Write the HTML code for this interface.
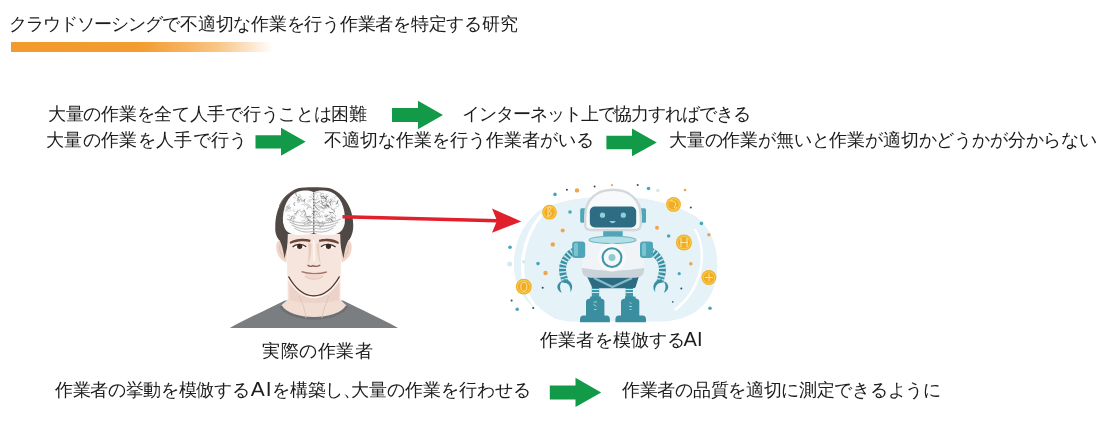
<!DOCTYPE html>
<html><head><meta charset="utf-8">
<style>
html,body{margin:0;padding:0;background:#fff;}
body{width:1114px;height:425px;position:relative;overflow:hidden;font-family:"Liberation Sans",sans-serif;color:#1C1C1C;}
.t{position:absolute;white-space:nowrap;font-size:18px;line-height:18px;will-change:transform;}
#bar{position:absolute;left:11px;top:42px;width:262px;height:10px;background:linear-gradient(to right,#F29A2D 0px,#F39C31 130px,#F7B565 180px,#F9C788 208px,#FCE1C3 236px,#fff 262px);}
svg{position:absolute;left:0;top:0;}
</style></head><body>
<div class="t" id="title" style="left:8.5px;top:15px;font-size:18px;"><span style="letter-spacing:-0.97px">クラウドソーシング</span><span style="letter-spacing:-0.25px">で不適切な作業を行う作業者を特定する研究</span></div>
<div id="bar"></div>

<div class="t" id="r1a" style="left:48px;top:105px;letter-spacing:-0.29px;">大量の作業を全て人手で行うことは困難</div>
<div class="t" id="r1b" style="left:462px;top:105px;letter-spacing:-1.06px;">インターネット上で協力すればできる</div>
<div class="t" id="r2a" style="left:46px;top:131px;letter-spacing:0.35px;">大量の作業を人手で行う</div>
<div class="t" id="r2b" style="left:324px;top:131px;">不適切な作業を行う作業者がいる</div>
<div class="t" id="r2c" style="left:669px;top:131px;letter-spacing:-0.17px;">大量の作業が無いと作業が適切かどうかが分からない</div>

<div class="t" id="cap1" style="left:262px;top:342px;letter-spacing:0.6px;">実際の作業者</div>
<div class="t" id="cap2" style="left:540px;top:331px;letter-spacing:0.17px;">作業者を模倣する<span style="font-size:20px;margin-left:-2px;letter-spacing:0.3px;line-height:10px">AI</span></div>

<div class="t" id="b1" style="left:55px;top:381px;letter-spacing:-0.35px;">作業者の挙動を模倣する<span style="font-size:21px;letter-spacing:1px;margin-left:1.5px;line-height:10px">A</span><span style="font-size:21px;letter-spacing:0.8px;line-height:10px">I</span>を構築し<span style="display:inline-block;width:8px;overflow:visible">、</span><span style="letter-spacing:0">大量の作業を行わせる</span></div>
<div class="t" id="b2" style="left:622px;top:381px;letter-spacing:-0.3px;">作業者の品質を適切に測定できるように</div>

<svg width="1114" height="425" viewBox="0 0 1114 425">
  
  <g id="man">
    <!-- shirt -->
    <path d="M229.8,328 C244,320 268,309 285,300.5 L343,300.5 C360,309 384,320 398,328 Z" fill="#7B7E81"/>
    <!-- neck -->
    <path d="M287.6,266 L287.6,300 C285,302 282.5,304 280.6,306 C290,322.5 338,322.5 347,306 C345,304 342.5,302 340.6,300 L340.6,266 Z" fill="#F2DDD3"/>
    <path d="M290,283 C300,294 328,294 339,283 L339,300 C326,304 302,304 290,300 Z" fill="#E9CFC4" opacity="0.7"/>
    <path d="M280.6,306 C290,322.5 338,322.5 347,306" fill="none" stroke="#6C6F72" stroke-width="2.6"/>
    <path d="M299,296 C303,304 305,310 306,318 M329,296 C326,304 323,310 322,318" fill="none" stroke="#DDBFB3" stroke-width="0.8"/>
    <path d="M287.6,268 L287.6,300 M340.6,268 L340.6,300" stroke="#FFF4EE" stroke-width="1"/>
    <!-- hair -->
    <path d="M279,240 C276,236 274.8,232 275.3,226 C275.5,208 284,193 298,188.2 C305,186.8 322,186.8 330,188.2 C344,193 353,208 353.2,224 C353.6,230 352,236 349,240 Z" fill="#4F4845"/>
    <path d="M279.5,206 C282,199 287,194 294,191" fill="none" stroke="#6E6662" stroke-width="1"/>
    <!-- ears -->
    <path d="M282,239.5 C278,240 275.6,243 276.3,248.5 C277,254.5 280,260 286.5,262.5 L287.5,246 Z" fill="#F0D5C9"/>
    <path d="M346,239.5 C350,240 352.4,243 351.7,248.5 C351,254.5 348,260 341.5,262.5 L340.5,246 Z" fill="#F0D5C9"/>
    <path d="M280,245 C279,249 280.5,254 284,257.5" fill="none" stroke="#E0BCAE" stroke-width="1"/>
    <path d="M348,245 C349,249 347.5,254 344,257.5" fill="none" stroke="#E0BCAE" stroke-width="1"/>
    <path d="M278,232 L289,232 L288.5,240 C287.5,246 286,252 284.5,258.5 C283.5,251 282,244 278.5,238 Z" fill="#4F4845"/>
    <path d="M350,232 L339,232 L339.5,240 C340.5,246 342,252 343.5,258.5 C344.5,251 346,244 349.5,238 Z" fill="#4F4845"/>
    <!-- face -->
    <path d="M287.8,234 L340.2,234 C340.8,248 341,264 340.5,276 C334,287.5 325,295.8 313.8,295.8 C302.6,295.8 294,287.5 287.5,276 C287,264 287.2,248 287.8,234 Z" fill="#F6E5DC"/>
    <path d="M287.5,277.5 C294,289.5 302.5,297.5 313.8,297.5 C325.1,297.5 334,289.5 340.5,277.5" fill="none" stroke="#FFF7F3" stroke-width="1.4"/>
    <path d="M288.5,276.5 C295,288 303,295.8 313.8,295.8 C324.6,295.8 333,288 339.5,276.5" fill="none" stroke="#4A3430" stroke-width="1.35"/>
    <path d="M313.8,240 L314.2,261" stroke="#FFF6F1" stroke-width="1.6"/>
    <!-- brain -->
    <clipPath id="bc"><path d="M283,223 C282,207 288,196 297,192 C304,189.8 310,190.2 313.8,192.3 C317.6,190.2 324,189.8 331,192 C340,196 346,207 344.8,223 C343.5,230 340,233.5 334,234.5 C325,236 318,234.5 313.8,233 C309,234.5 302,236 294,234.5 C288,233.5 284.5,230 283.5,224 Z"/></clipPath>
    <path d="M283,223 C282,207 288,196 297,192 C304,189.8 310,190.2 313.8,192.3 C317.6,190.2 324,189.8 331,192 C340,196 346,207 344.8,223 C343.5,230 340,233.5 334,234.5 C325,236 318,234.5 313.8,233 C309,234.5 302,236 294,234.5 C288,233.5 284.5,230 283.5,224 Z" fill="#FCFCFC"/>
    <g clip-path="url(#bc)">
    <path d="M321.1,207.2 L320.4,207.6 L319.5,207.7 L318.7,207.5 L318.0,207.0 L317.7,206.4 L317.7,205.8 M312.5,198.6 L312.3,199.2 L311.7,199.6 L311.0,199.8 L310.3,199.9 L309.5,199.7 L309.0,199.3 M326.8,204.5 L327.8,204.6 L328.6,205.0 L329.0,205.6 L329.0,206.4 L328.6,207.0 L327.8,207.4 M321.7,214.7 L321.7,215.5 L321.1,216.2 L320.2,216.6 L319.2,216.7 L318.2,216.4 L317.5,215.8 M329.0,202.6 L329.9,202.4 L330.9,202.5 L331.7,202.9 L332.2,203.5 L332.2,204.3 L331.8,205.0 M286.3,207.1 L287.2,206.5 L288.3,206.2 L289.5,206.5 L290.3,207.1 L290.7,207.9 L290.5,208.8 M322.1,198.0 L321.5,197.5 L321.3,196.8 L321.7,196.1 L322.5,195.8 L323.4,195.8 L324.1,196.3 M298.9,213.4 L298.0,212.8 L297.6,212.0 L297.7,211.1 L298.4,210.3 L299.5,209.9 L300.7,209.9 M298.5,201.0 L299.1,200.3 L300.0,199.9 L301.1,199.7 L302.1,200.0 L302.9,200.5 L303.3,201.3 M325.3,221.1 L325.8,220.5 L326.8,220.2 L327.8,220.5 L328.4,221.1 L328.4,221.9 L327.7,222.5 M321.3,225.7 L321.3,226.2 L321.0,226.6 L320.6,226.9 L320.0,227.1 L319.5,227.1 L318.9,226.9 M334.1,214.2 L335.5,215.0 L335.9,216.3 L335.3,217.5 L333.7,218.1 L332.0,218.0 L330.7,217.0 M327.5,204.6 L326.8,203.9 L326.7,203.0 L327.0,202.2 L327.8,201.5 L328.8,201.1 L330.0,201.1 M289.2,207.2 L289.3,208.0 L288.7,208.6 L287.8,208.9 L286.8,208.7 L286.2,208.1 L286.2,207.3 M316.6,195.0 L317.4,195.4 L317.8,196.0 L317.9,196.7 L317.5,197.3 L316.9,197.8 L316.0,198.0 M308.1,225.5 L307.3,224.7 L307.3,223.8 L307.9,223.1 L309.1,222.8 L310.3,223.0 L311.0,223.8 M326.8,204.1 L327.7,204.8 L328.0,205.8 L327.6,206.7 L326.6,207.3 L325.3,207.4 L324.1,207.0 M298.0,199.8 L299.0,200.1 L299.6,200.7 L299.7,201.5 L299.2,202.1 L298.4,202.6 L297.4,202.6 M316.1,220.6 L316.7,220.4 L317.4,220.3 L318.0,220.5 L318.4,220.9 L318.6,221.4 L318.4,221.9 M319.3,221.4 L319.3,221.9 L319.2,222.3 L318.8,222.7 L318.2,222.9 L317.6,223.0 L316.9,222.9 M316.3,210.1 L316.8,209.6 L317.6,209.4 L318.4,209.4 L319.1,209.8 L319.5,210.3 L319.4,210.9 M309.9,218.0 L309.6,217.5 L309.7,216.9 L310.2,216.5 L311.0,216.3 L311.7,216.5 L312.1,217.0 M294.1,216.2 L294.1,215.7 L294.4,215.2 L295.0,214.8 L295.8,214.7 L296.5,214.9 L297.0,215.3 M287.3,215.2 L288.4,215.1 L289.3,215.4 L290.0,216.0 L290.1,216.8 L289.6,217.5 L288.8,218.0 M318.9,209.2 L319.2,209.7 L319.2,210.2 L319.0,210.7 L318.5,211.0 L317.9,211.3 L317.2,211.3 M312.0,218.5 L312.8,218.0 L313.9,217.8 L314.9,218.0 L315.7,218.5 L316.1,219.2 L316.1,219.9 M304.5,202.9 L304.5,203.6 L304.2,204.1 L303.5,204.5 L302.7,204.6 L301.9,204.4 L301.4,204.0 M304.5,206.2 L304.7,205.2 L305.5,204.4 L306.7,204.1 L308.1,204.2 L309.1,204.8 L309.5,205.8 M299.1,201.6 L298.5,201.6 L297.9,201.4 L297.5,201.0 L297.4,200.6 L297.6,200.1 L297.9,199.7 M334.4,209.3 L334.4,208.9 L334.6,208.5 L335.0,208.2 L335.6,208.0 L336.1,208.0 L336.7,208.2 M317.9,208.7 L316.5,208.3 L315.6,207.3 L315.7,206.1 L316.6,205.2 L318.2,204.9 L319.7,205.3 M334.2,201.6 L333.1,201.9 L332.0,201.6 L331.3,201.0 L331.3,200.1 L331.9,199.4 L332.9,199.1 M309.1,216.4 L308.3,217.0 L307.2,217.1 L306.2,216.7 L305.8,215.9 L306.1,215.1 L306.9,214.6 M325.9,195.4 L326.3,196.2 L326.2,197.0 L325.7,197.8 L324.8,198.3 L323.6,198.5 L322.5,198.4 M291.1,216.4 L292.2,216.4 L293.1,216.8 L293.6,217.5 L293.5,218.3 L292.9,219.0 L292.0,219.3 M328.9,220.3 L329.7,219.8 L330.6,219.6 L331.6,219.7 L332.5,220.1 L332.9,220.8 L332.9,221.6 M335.3,199.2 L334.5,198.7 L334.2,197.9 L334.4,197.1 L335.2,196.6 L336.2,196.4 L337.2,196.6 M314.8,223.8 L314.2,223.1 L314.2,222.3 L314.7,221.6 L315.7,221.2 L316.8,221.3 L317.6,221.8 M305.1,223.5 L305.0,224.3 L304.5,225.0 L303.6,225.5 L302.5,225.8 L301.4,225.6 L300.4,225.2 M309.0,219.9 L308.5,220.7 L307.4,221.2 L306.2,221.3 L305.1,221.0 L304.3,220.3 L304.0,219.4 M328.4,220.3 L327.4,220.3 L326.5,220.0 L325.9,219.4 L325.8,218.6 L326.2,217.9 L327.0,217.4 M307.6,222.1 L307.3,221.4 L307.4,220.7 L307.9,220.1 L308.8,219.7 L309.7,219.6 L310.6,219.9 M303.5,216.8 L302.3,217.0 L301.2,216.6 L300.6,215.8 L300.7,214.9 L301.5,214.2 L302.7,214.0 M317.2,225.7 L318.1,225.3 L319.1,225.2 L320.0,225.5 L320.6,226.2 L320.8,226.9 L320.4,227.7 M319.2,223.2 L320.5,222.8 L321.9,223.0 L322.9,223.7 L323.5,224.6 L323.3,225.6 L322.6,226.5 M308.6,204.8 L308.3,205.2 L307.8,205.5 L307.1,205.6 L306.5,205.4 L306.1,205.0 L305.9,204.6 M327.8,216.5 L326.9,216.7 L326.0,216.5 L325.4,215.9 L325.2,215.3 L325.6,214.6 L326.3,214.2 M284.9,211.9 L285.3,211.4 L286.0,211.0 L286.7,210.8 L287.6,210.9 L288.3,211.2 L288.8,211.7 M286.2,207.1 L286.9,206.9 L287.5,206.9 L288.2,207.1 L288.6,207.5 L288.7,208.0 L288.5,208.5 M319.3,218.2 L319.7,217.5 L320.4,217.1 L321.3,216.9 L322.2,216.9 L323.0,217.3 L323.5,217.9 M297.7,200.4 L298.4,199.6 L299.5,199.3 L300.7,199.5 L301.5,200.2 L301.7,201.1 L301.1,201.9 M317.8,223.2 L318.7,223.1 L319.5,223.5 L319.9,224.2 L319.5,224.9 L318.7,225.4 L317.8,225.3 M327.0,193.9 L327.0,194.7 L326.6,195.4 L325.8,196.0 L324.8,196.3 L323.7,196.2 L322.8,195.9 M320.6,208.9 L321.4,208.3 L322.5,208.2 L323.5,208.6 L323.9,209.4 L323.6,210.2 L322.6,210.7 M322.9,222.1 L323.8,222.2 L324.5,222.7 L324.7,223.4 L324.3,224.0 L323.6,224.4 L322.7,224.4 M293.2,197.4 L293.7,197.2 L294.3,197.3 L294.8,197.4 L295.1,197.8 L295.3,198.2 L295.2,198.6 M331.3,218.1 L332.1,217.4 L333.4,217.2 L334.6,217.6 L335.3,218.4 L335.2,219.4 L334.4,220.2 M320.9,196.8 L320.1,196.0 L320.0,195.0 L320.6,194.1 L321.7,193.5 L323.0,193.5 L324.2,193.9 M315.9,223.2 L316.4,223.6 L316.7,224.2 L316.6,224.7 L316.3,225.2 L315.8,225.6 L315.0,225.8 M304.3,214.0 L305.0,214.5 L305.4,215.2 L305.4,215.9 L305.0,216.5 L304.2,217.0 L303.3,217.1 M333.8,221.1 L333.1,221.4 L332.3,221.3 L331.6,220.9 L331.4,220.3 L331.5,219.7 L332.0,219.3 M307.0,209.0 L307.6,208.1 L308.6,207.5 L309.9,207.4 L311.1,207.8 L311.9,208.6 L312.0,209.6 M321.1,223.8 L321.9,224.4 L322.3,225.2 L322.2,226.0 L321.6,226.7 L320.6,227.2 L319.5,227.3 M322.5,220.7 L322.5,221.9 L321.5,222.8 L320.1,223.1 L318.7,222.7 L317.9,221.7 L318.0,220.6 M291.4,210.6 L290.5,210.7 L289.7,210.3 L289.2,209.7 L289.1,209.0 L289.5,208.4 L290.3,208.0 M307.0,224.9 L306.0,225.1 L305.0,224.9 L304.2,224.4 L303.9,223.7 L304.2,222.9 L304.9,222.3 M329.7,217.5 L330.2,217.0 L331.0,216.8 L331.8,217.0 L332.4,217.4 L332.6,218.0 L332.4,218.6 M331.3,206.5 L331.4,207.0 L331.3,207.4 L330.9,207.8 L330.4,208.0 L329.8,208.0 L329.2,207.8 M327.5,209.2 L326.8,208.7 L326.4,208.1 L326.3,207.3 L326.7,206.7 L327.4,206.1 L328.2,205.8 M307.5,209.3 L307.0,208.3 L307.4,207.3 L308.4,206.6 L309.8,206.4 L311.1,206.8 L311.9,207.6 M307.5,217.0 L307.9,217.7 L307.7,218.4 L306.9,218.9 L305.9,219.0 L305.1,218.5 L304.8,217.8 M331.1,215.2 L331.9,215.4 L332.5,215.8 L332.7,216.5 L332.3,217.1 L331.6,217.4 L330.8,217.4 M303.5,209.7 L303.5,210.5 L302.9,211.3 L301.9,211.7 L300.8,211.6 L299.8,211.1 L299.4,210.3 M319.3,214.8 L318.8,213.7 L319.2,212.5 L320.4,211.8 L321.9,211.6 L323.4,212.1 L324.2,213.1 M321.2,206.4 L320.6,206.6 L320.0,206.6 L319.3,206.5 L318.8,206.2 L318.5,205.7 L318.4,205.2 M302.4,201.5 L302.5,201.0 L302.9,200.6 L303.5,200.4 L304.2,200.4 L304.7,200.6 L305.1,201.0 M325.5,223.0 L324.7,223.4 L323.8,223.4 L323.0,223.1 L322.6,222.5 L322.6,221.8 L323.2,221.2 M310.7,224.4 L310.0,224.8 L309.1,224.9 L308.3,224.6 L307.8,224.1 L307.7,223.4 L308.2,222.8 M328.6,199.4 L328.4,200.5 L327.5,201.4 L326.0,201.7 L324.5,201.4 L323.5,200.6 L323.3,199.5 M291.9,216.0 L293.0,216.1 L294.0,216.5 L294.5,217.3 L294.6,218.1 L294.1,218.9 L293.2,219.4 M319.1,213.0 L318.5,213.7 L317.4,214.2 L316.2,214.2 L315.1,213.9 L314.3,213.1 L314.1,212.2 M303.9,220.5 L303.6,220.9 L303.1,221.1 L302.5,221.2 L301.9,221.1 L301.4,220.8 L301.1,220.5 M288.6,208.1 L287.9,207.5 L287.6,206.8 L287.7,206.0 L288.2,205.3 L289.0,204.8 L289.9,204.6 M324.5,201.0 L325.6,201.2 L326.3,201.8 L326.7,202.5 L326.5,203.3 L325.8,203.9 L324.8,204.2 M328.7,211.6 L330.2,212.1 L331.0,213.1 L330.8,214.3 L329.7,215.2 L328.2,215.5 L326.7,214.9 M329.6,199.2 L330.7,199.6 L331.3,200.4 L331.2,201.3 L330.4,202.0 L329.3,202.3 L328.1,202.0 M325.8,221.6 L326.5,220.7 L327.8,220.2 L329.2,220.3 L330.3,220.9 L330.8,221.9 L330.5,222.9 M287.8,207.2 L288.1,208.3 L287.5,209.3 L286.3,209.9 L284.9,209.8 L283.7,209.1 L283.3,208.1 M308.8,197.1 L309.8,196.8 L310.9,196.8 L311.9,197.2 L312.6,197.9 L312.9,198.7 L312.7,199.5 M316.4,193.1 L317.6,192.3 L319.2,192.1 L320.7,192.6 L321.5,193.7 L321.3,194.9 L320.3,195.9 M334.0,201.1 L332.9,201.3 L331.8,201.0 L331.1,200.3 L330.9,199.5 L331.4,198.7 L332.3,198.2 M310.4,221.1 L309.6,221.1 L309.0,220.9 L308.6,220.5 L308.5,219.9 L308.7,219.4 L309.2,219.1 M294.3,222.8 L293.4,222.7 L292.7,222.2 L292.5,221.6 L292.8,220.9 L293.5,220.5 L294.4,220.4 M301.9,198.6 L301.3,198.7 L300.7,198.6 L300.2,198.4 L299.9,198.0 L299.8,197.6 L300.0,197.1 M318.9,198.1 L318.6,198.9 L317.8,199.5 L316.8,199.8 L315.6,199.7 L314.7,199.3 L314.2,198.5 M307.1,201.3 L307.8,201.0 L308.5,200.9 L309.3,201.0 L310.0,201.3 L310.4,201.8 L310.5,202.4 M338.3,201.6 L337.5,202.0 L336.6,202.1 L335.6,201.9 L334.9,201.5 L334.4,200.9 L334.2,200.1 M299.2,194.4 L299.7,194.9 L299.8,195.4 L299.5,195.9 L298.9,196.3 L298.2,196.4 L297.5,196.2 M316.2,209.9 L315.8,210.5 L315.0,211.0 L314.1,211.2 L313.2,211.1 L312.3,210.9 L311.7,210.3 M316.9,213.8 L316.6,214.7 L315.8,215.3 L314.6,215.7 L313.4,215.5 L312.4,215.0 L311.8,214.2 M302.4,211.0 L303.3,211.3 L303.7,211.8 L303.6,212.5 L303.1,212.9 L302.2,213.0 L301.4,212.7 M318.4,213.7 L319.4,214.6 L319.5,215.8 L318.7,216.8 L317.3,217.2 L315.8,217.0 L314.7,216.1 M314.6,191.8 L315.5,192.6 L315.7,193.6 L315.0,194.6 L313.8,195.1 L312.4,195.1 L311.2,194.5 M322.0,203.7 L320.9,203.7 L320.0,203.3 L319.3,202.6 L319.1,201.8 L319.4,201.0 L320.1,200.4 M336.1,203.6 L337.5,203.5 L338.6,204.1 L339.1,205.0 L338.7,206.0 L337.6,206.6 L336.3,206.6 M316.2,199.4 L315.7,199.8 L314.9,200.0 L314.2,199.9 L313.5,199.6 L313.0,199.2 L312.8,198.6 M316.9,192.8 L316.6,192.4 L316.5,191.9 L316.7,191.4 L317.1,191.0 L317.7,190.7 L318.3,190.7 M293.9,216.7 L294.7,216.9 L295.2,217.4 L295.2,218.1 L294.7,218.6 L293.8,218.8 L293.0,218.5 M300.2,195.2 L300.8,195.9 L300.8,196.7 L300.2,197.4 L299.2,197.6 L298.1,197.4 L297.4,196.8 M295.2,211.6 L294.4,211.6 L293.8,211.3 L293.3,210.8 L293.3,210.2 L293.5,209.7 L294.1,209.3" fill="none" stroke="#9A9A9A" stroke-width="0.45"/>
    <path d="M311.8,221.7 L308.4,220.4 L307.9,218.3 M325.8,201.3 L326.2,197.2 L328.3,196.0 M331.0,208.6 L334.2,210.2 L334.4,212.4 M311.8,214.0 L315.3,211.4 L317.7,212.3 M305.3,217.2 L309.4,216.2 L311.2,217.9 M323.7,205.2 L328.0,205.7 L329.1,207.9 M317.6,208.8 L314.6,205.9 L315.0,203.4 M297.8,200.6 L297.9,198.1 L299.2,197.2 M329.3,206.5 L326.5,205.4 L326.2,203.7 M297.6,210.7 L296.2,213.6 L294.3,213.9 M324.3,203.0 L321.4,201.7 L321.1,199.9 M337.9,200.2 L337.4,203.3 L335.7,204.1 M304.0,209.7 L305.7,213.4 L304.4,215.5 M325.8,208.1 L322.2,208.0 L321.0,206.2 M319.6,201.0 L316.5,203.2 L314.4,202.3 M329.3,212.7 L332.6,212.4 L333.9,214.0 M296.7,196.4 L295.7,193.8 L296.6,192.5 M292.0,216.6 L291.2,219.2 L289.6,219.6 M320.6,196.6 L324.0,196.6 L325.1,198.3 M326.3,206.9 L322.4,205.1 L322.0,202.5 M330.8,205.6 L329.8,202.5 L331.0,201.0 M328.1,215.4 L325.6,216.7 L324.2,215.9 M304.2,202.5 L304.2,199.7 L305.5,198.8 M294.6,205.9 L293.9,203.5 L294.9,202.3 M320.8,198.2 L325.2,198.0 L326.7,200.2 M327.5,218.6 L331.4,219.1 L332.4,221.2" fill="none" stroke="#5A5A5A" stroke-width="0.6"/>
    <path d="M286.8,219.0 C297.6,224.0 307.1,223.5 313.8,222.0 M340.8,219.0 C330.0,224.0 320.6,223.5 313.8,222.0 M289.3,222.0 C299.1,227.0 307.7,226.5 313.8,225.0 M338.3,222.0 C328.5,227.0 319.9,226.5 313.8,225.0 M291.8,225.0 C300.6,230.0 308.3,229.5 313.8,228.0 M335.8,225.0 C327.0,230.0 319.3,229.5 313.8,228.0 M294.3,228.0 C302.1,233.0 308.9,232.5 313.8,231.0 M333.3,228.0 C325.5,233.0 318.7,232.5 313.8,231.0" fill="none" stroke="#8A8A8A" stroke-width="0.6"/>
    </g>
    <path d="M313.8,192.5 L313.8,233" stroke="#444" stroke-width="1" stroke-dasharray="2,1"/>
    <!-- eyebrows -->
    <path d="M289.7,242 C294,239.5 299,238.6 303,238.8 C306,238.9 308.5,239.3 310.5,239.8 L310.2,242 C307,241.3 303,241.1 299,241.5 C296,241.9 292,243 290,243.8 Z" fill="#6A4538"/>
    <path d="M319,239.8 C321,239.3 323.5,238.9 326.5,238.8 C330.5,238.6 335,239.5 338.8,242.2 L338.5,244 C336,243 332,241.9 329,241.5 C325,241.1 322,241.3 319.3,242 Z" fill="#6A4538"/>
    <!-- nose shading -->
    <path d="M308,242 C309,250 309,258 307.5,264 C310,262 311,254 311.5,244 Z" fill="#E6CABE"/>
    <path d="M319.5,242 C319,250 319.5,258 321,264 C318.5,262 317,254 316.5,244 Z" fill="#E9D0C5"/>
    <!-- eyes -->
    <path d="M292.6,247 C295.5,243.8 302.5,243.3 306.2,246.8 C302.5,248.6 296.5,248.8 292.6,247 Z" fill="#FFFFFF"/>
    <path d="M320.9,246.8 C324.5,243.3 331.5,243.8 335.6,247 C331.5,248.8 325.5,248.6 320.9,246.8 Z" fill="#FFFFFF"/>
    <circle cx="299.7" cy="246.3" r="2.6" fill="#3B2824"/>
    <circle cx="328.5" cy="246.3" r="2.6" fill="#3B2824"/>
    <path d="M292.6,247 C295.5,243.8 302.5,243.3 306.2,246.8" fill="none" stroke="#3B2824" stroke-width="1.2"/>
    <path d="M320.9,246.8 C324.5,243.3 331.5,243.8 335.6,247" fill="none" stroke="#3B2824" stroke-width="1.2"/>
    <!-- nose -->
    <path d="M307.5,265 C309.5,266.8 311.5,266.5 313,265.6 C314.5,266.5 317.5,266.8 320.3,265" fill="none" stroke="#8C5E55" stroke-width="1.3"/>
    <!-- mouth -->
    <path d="M301.5,271.6 C308,274 319,274.2 326.8,272" fill="none" stroke="#A57468" stroke-width="1.3"/>
    <path d="M304.5,274.5 C309,279.5 318,279.5 323.5,274.5 Z" fill="#F1D6CB"/>
    <path d="M305,276.5 C310,280 318,280 323,276.5" fill="none" stroke="#DDB8AC" stroke-width="0.9"/>
  </g>
  
  <g id="robot">
    <path d="M540,210 C560,200 585,196.5 612,196.5 C640,196.5 672,201 698,218 C713,231 719,252 717,273 C714,301 696,319 665,321.5 L570,321.5 C540,319 519,301 514.5,273 C511.5,248 521,224 540,210 Z" fill="#E5F2F8"/>
    <path d="M542,214 C523,237 516,270 530,299 C536,309 545,315 553,319" fill="none" stroke="#FFFFFF" stroke-width="3.4"/>
    <path d="M695,229 C708,252 703,288 675,310" fill="none" stroke="#FFFFFF" stroke-width="2.4"/>
    <!-- dots -->
    <g fill="#4BA7B8">
      <circle cx="555" cy="194.4" r="1.8"/><circle cx="570" cy="212" r="1.8"/><circle cx="510" cy="247.3" r="1.8"/>
      <circle cx="648.5" cy="188.5" r="1.8"/><circle cx="701.4" cy="223.4" r="1.8"/><circle cx="668.6" cy="236" r="1.8"/>
      <circle cx="538" cy="263.6" r="1.8"/><circle cx="517.2" cy="309.3" r="1.8"/><circle cx="679.2" cy="273.7" r="1.6"/>
      <circle cx="710" cy="308.3" r="1.8"/>
    </g>
    <g fill="#F0A54C">
      <circle cx="577" cy="190.4" r="2.2"/><circle cx="562.7" cy="230.4" r="2"/><circle cx="552.8" cy="244.4" r="2.2"/>
      <circle cx="685" cy="190" r="1.3"/><circle cx="657" cy="227.7" r="2"/><circle cx="708.9" cy="234.7" r="1.8"/>
      <circle cx="690.8" cy="263.8" r="1.8"/><circle cx="545.5" cy="273" r="2.2"/><circle cx="612" cy="185.2" r="1.1"/>
    </g>
    <g fill="#2F4B5E">
      <circle cx="566.9" cy="189.8" r="1"/><circle cx="594.6" cy="186.4" r="1"/><circle cx="637.7" cy="185" r="1"/>
      <circle cx="690.8" cy="207.5" r="1"/><circle cx="542.7" cy="287.7" r="1"/><circle cx="511.6" cy="300.5" r="1"/>
      <circle cx="533.2" cy="308" r="1"/><circle cx="681.3" cy="288.6" r="1"/><circle cx="672.8" cy="301.9" r="0.8"/>
    </g>
    <g fill="#D5E8F0">
      <circle cx="657.8" cy="190.5" r="1.8"/><circle cx="509.7" cy="264" r="2.5"/><circle cx="523.8" cy="261.7" r="1.8"/>
    </g>
    <!-- coins -->
    <g>
      <circle cx="549.5" cy="212.2" r="7.4" fill="#F1AC24"/><circle cx="549.5" cy="212.2" r="5.8" fill="none" stroke="#F8CC48" stroke-width="1.1"/>
      <circle cx="673.5" cy="204.4" r="7.4" fill="#F1AC24"/><circle cx="673.5" cy="204.4" r="5.8" fill="none" stroke="#F8CC48" stroke-width="1.1"/>
      <circle cx="683.9" cy="242.5" r="8" fill="#F1AC24"/><circle cx="683.9" cy="242.5" r="6.4" fill="none" stroke="#F8CC48" stroke-width="1.1"/>
      <circle cx="708.9" cy="277.5" r="7.4" fill="#F1AC24"/><circle cx="708.9" cy="277.5" r="5.8" fill="none" stroke="#F8CC48" stroke-width="1.1"/>
      <circle cx="523.8" cy="286.7" r="7.9" fill="#F1AC24"/><circle cx="523.8" cy="286.7" r="6.3" fill="none" stroke="#F8CC48" stroke-width="1.1"/>
      <g fill="none" stroke="#FCE7A8" stroke-width="1">
        <path d="M548,208 C551,206 552,209 549,211 C552,212 552,216 548,216 M548,208 L548,217"/>
        <path d="M670,201 C674,200 677,203 675,206 C673,208 676,209 677,207"/>
        <path d="M681,238 L681,247 M687,238 L687,247 M680,242.5 L688,242.5"/>
        <path d="M705,277.5 L713,277.5 M709,273.5 L709,281.5"/>
        <ellipse cx="523.8" cy="286.7" rx="3" ry="4.5"/>
      </g>
    </g>
    <!-- arms -->
    <path d="M576,250 C566,255 561,264 563,274 C564,278 565,280 565,283" fill="none" stroke="#3A90A3" stroke-width="7"/>
    <path d="M576,250 C566,255 561,264 563,274 C564,278 565,280 565,283" fill="none" stroke="#C9E9EF" stroke-width="7" stroke-dasharray="1.5,2.3"/>
    <path d="M649,250 C659,255 664,264 662,274 C661,278 660,280 660,283" fill="none" stroke="#3A90A3" stroke-width="7"/>
    <path d="M649,250 C659,255 664,264 662,274 C661,278 660,280 660,283" fill="none" stroke="#C9E9EF" stroke-width="7" stroke-dasharray="1.5,2.3"/>
    <!-- claws -->
    <g fill="#3A8FA2">
      <path d="M560.8,281.5 C556,284.5 556,290 561.8,292.8 C559.6,289 559.4,285 561.5,282 Z"/><path d="M563.5,279.2 C570.5,279 575,286 570.3,292.2 C571.3,287 568.5,282.8 564,282.8 Z"/>
      <path d="M664.8,281.5 C669.6,284.5 669.6,290 663.8,292.8 C666.0,289 666.2,285 664.1,282 Z"/><path d="M662.1,279.2 C655.1,279 650.6,286 655.3,292.2 C654.3,287 657.1,282.8 661.6,282.8 Z"/>
    </g>
    <!-- legs -->
    <rect x="591.8" y="286" width="7.4" height="12" fill="#3E97AA"/>
    <rect x="625.6" y="286" width="7.4" height="12" fill="#3E97AA"/>
    <path d="M591.8,289.5 H599.2 M591.8,292.5 H599.2 M625.6,289.5 H633 M625.6,292.5 H633" stroke="#CDEAEF" stroke-width="1.1"/>
    <!-- boots -->
    <g fill="#3A8E9F">
      <path d="M590.3,296.5 L600.7,296.5 L601,298.5 Q604.4,299 604.4,301.5 L604.4,315.6 L606.5,315.6 Q609.9,315.8 609.9,319.5 L609.9,322.3 L580,322.3 L580,319.5 Q580,315.8 583.5,315.6 L586,315.6 L586,301.5 Q586,299 590,298.5 Z"/>
      <path d="M625,296.5 L635.4,296.5 L635.7,298.5 Q639.3,299 639.3,301.5 L639.3,315.6 L642.5,315.6 Q646,315.8 646,319.5 L646,322.3 L615.4,322.3 L615.4,319.5 Q615.4,315.8 619,315.6 L621,315.6 L621,301.5 Q621,299 625,298.5 Z"/>
    </g>
    <path d="M593.5,302 H597 M593.5,304.5 L596.5,306.5 M594,309.5 H596.5 M629.5,302 L631.5,304 M629,306.5 H632 M629.5,309.5 H631.5" stroke="#A8D8E0" stroke-width="0.9" fill="none"/>
    <!-- pelvis -->
    <path d="M587.3,277 L638.7,277 L635.6,287 Q635,288.3 633,288.3 L594,288.3 Q592.4,288.3 592,287 Z" fill="#2C6B81"/>
    <path d="M594,278 L612.5,287 L632,278" fill="none" stroke="#86BAC7" stroke-width="2.2"/>
    <!-- body -->
    <path d="M589,237.5 L636,237.5 Q644.2,239.5 644.2,248 L644.2,269 Q644.2,277.5 635,277.5 L591,277.5 Q581.8,277.5 581.8,269 L581.8,248 Q581.8,239.5 589,237.5 Z" fill="#F1F4F6"/>
    <path d="M581.8,268 Q612,273.5 644.2,268 L644.2,269.5 Q644.2,277.5 635,277.5 L591,277.5 Q581.8,277.5 581.8,269.5 Z" fill="#C9D3D9"/>
    <ellipse cx="612.5" cy="239.9" rx="23.5" ry="3.7" fill="#B5DFE6" stroke="#6DB6C4" stroke-width="1.1"/>
    <circle cx="612" cy="257.5" r="14" fill="#F7F9FA"/>
    <circle cx="612" cy="257.6" r="9.4" fill="#F4F8F9" stroke="#3D95A8" stroke-width="2.1"/>
    <circle cx="612" cy="257.6" r="3.5" fill="#8DCAD3"/>
    <!-- shoulders -->
    <rect x="572.2" y="241.4" width="13" height="16.6" rx="3" fill="#4FA6B8"/>
    <rect x="640" y="241.4" width="13" height="16.6" rx="3" fill="#4FA6B8"/>
    <rect x="574" y="243" width="4" height="13" rx="1.5" fill="#7CC3D0"/>
    <rect x="642" y="243" width="4" height="13" rx="1.5" fill="#7CC3D0"/>
    <!-- neck -->
    <rect x="603.2" y="229.5" width="19.5" height="6.5" fill="#4FA6B8"/>
    <!-- ears -->
    <rect x="580.2" y="208.3" width="6" height="14.5" rx="1.5" fill="#4FA6B8"/>
    <rect x="640" y="208.3" width="6" height="14.5" rx="1.5" fill="#4FA6B8"/>
    <!-- helmet -->
    <path d="M585.2,216 C585.2,199 597,189.8 613,189.8 C629,189.8 640.8,199 640.8,216 L640.8,224.5 Q640.8,230 635,230 L591,230 Q585.2,230 585.2,224.5 Z" fill="#F7FAFB" stroke="#D3D8DC" stroke-width="2.4"/>
    <rect x="589.8" y="206.5" width="46.4" height="21" rx="5" fill="#2E6C83"/>
    <circle cx="602.5" cy="215.2" r="2.6" fill="#8DD0DA"/>
    <circle cx="623.3" cy="215.2" r="2.6" fill="#8DD0DA"/>
    <path d="M609.3,221 Q612.6,225.6 615.9,221 Z" fill="#8DD0DA"/>
  </g>

  <!-- red arrow -->
  <g>
    <line x1="342.5" y1="216.7" x2="497" y2="220.8" stroke="#E2202B" stroke-width="3.6"/>
    <polygon points="492,208.6 521.3,221.4 492,232.7 497,220.8" fill="#E2202B"/>
  </g>

  <g fill="#139A48">
    <polygon points="392,108 418,108 418,100.8 443,115 418,129.2 418,122 392,122"/>
    <polygon points="255.5,135.3 281,135.3 281,127.7 305.7,141.7 281,155.7 281,148.6 255.5,148.6"/>
    <polygon points="606.4,135.8 632,135.8 632,128.5 656.8,142.4 632,156.2 632,149.3 606.4,149.3"/>
    <polygon points="549.8,385.5 575.5,385.5 575.5,377.8 601.2,392.4 575.5,407 575.5,399.5 549.8,399.5"/>
  </g>
</svg>
</body></html>
